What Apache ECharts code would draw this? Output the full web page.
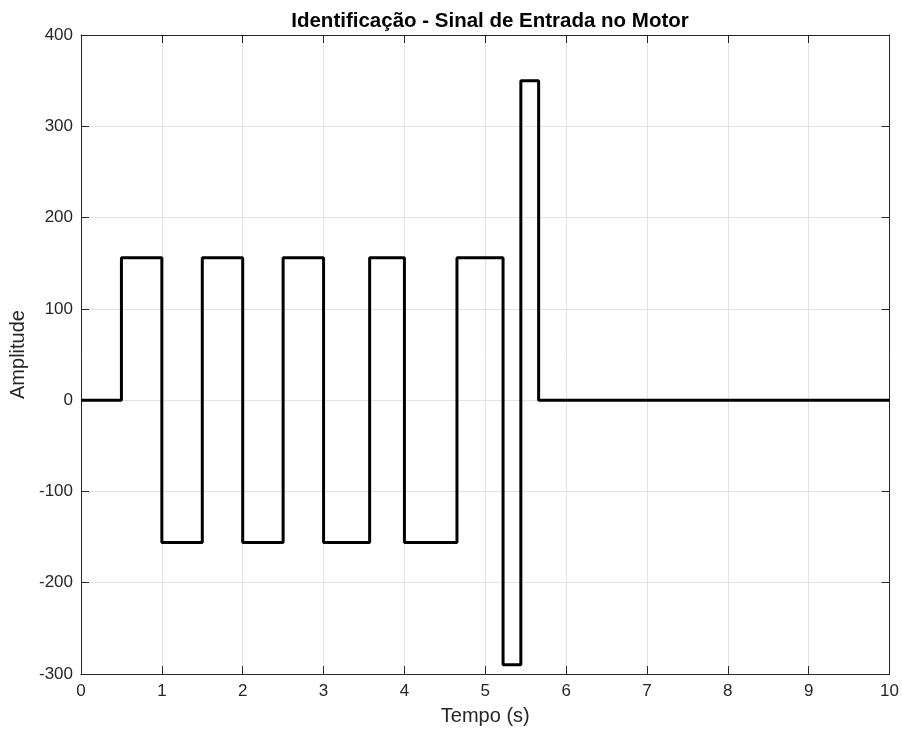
<!DOCTYPE html>
<html>
<head>
<meta charset="utf-8">
<script src="https://cdn.jsdelivr.net/npm/echarts@6/dist/echarts.min.js"></script>
<style>
  html, body { margin: 0; padding: 0; background: #fff; }
  #chart { width: 902px; height: 733px; }
</style>
</head>
<body>
<div id="chart"></div>
<script>
// Switching instants (s) and the level held from each instant onward
var switchTimes = [0, 0.5, 1.0, 1.5, 2.0, 2.5, 3.0, 3.57, 4.0, 4.65, 5.22, 5.44, 5.66, 10];
var levels      = [0, 156, -156, 156, -156, 156, -156, 156, -156, 156, -290, 350, 0, 0];

var xTicks = [0, 1, 2, 3, 4, 5, 6, 7, 8, 9, 10];
var yTicks = [-300, -200, -100, 0, 100, 200, 300, 400];

var points = switchTimes.map(function (t, i) { return [t, levels[i]]; });

var axisColor = '#262626';
var gridColor = '#e3e3e3';
var font = 'Liberation Sans, Arial, Helvetica, sans-serif';

function baseAxis(extra) {
  var o = {
    type: 'value',
    axisLine: { show: true, onZero: false, lineStyle: { color: axisColor, width: 1 } },
    axisTick: { show: true, inside: true, length: 8, lineStyle: { color: axisColor } },
    splitLine: { show: false },
    axisLabel: { show: false }
  };
  for (var k in extra) o[k] = extra[k];
  return o;
}

var chart = echarts.init(document.getElementById('chart'), null, { renderer: 'canvas' });
chart.setOption({
  animation: false,
  backgroundColor: '#ffffff',
  title: {
    text: 'Identificação - Sinal de Entrada no Motor',
    left: 485, top: 6, textAlign: 'center',
    textStyle: { fontFamily: font, fontSize: 20.5, fontWeight: 'bold', color: '#000' }
  },
  grid: { left: 81, right: 12, top: 35, bottom: 59, containLabel: false },
  xAxis: [
    baseAxis({
      position: 'bottom', min: 0, max: 10, interval: 1,
      name: 'Tempo (s)', nameLocation: 'middle', nameGap: 32,
      nameTextStyle: { fontFamily: font, fontSize: 20, color: axisColor },
      splitLine: { show: true, lineStyle: { color: gridColor, width: 1 } },
      axisLabel: { show: true, margin: 9, fontFamily: font, fontSize: 17, color: axisColor,
        formatter: function (v) { return xTicks.indexOf(v) >= 0 ? String(v) : ''; } }
    }),
    baseAxis({ position: 'top', min: 0, max: 10, interval: 1 })
  ],
  yAxis: [
    baseAxis({
      position: 'left', min: -300, max: 400, interval: 100,
      name: 'Amplitude', nameLocation: 'middle', nameGap: 51, nameRotate: 90,
      nameTextStyle: { fontFamily: font, fontSize: 20, color: axisColor },
      splitLine: { show: true, lineStyle: { color: gridColor, width: 1 } },
      axisLabel: { show: true, margin: 8, fontFamily: font, fontSize: 17, color: axisColor,
        formatter: function (v) { return yTicks.indexOf(v) >= 0 ? String(v) : ''; } }
    }),
    baseAxis({ position: 'right', min: -300, max: 400, interval: 100 })
  ],
  series: [{
    type: 'line',
    step: 'end',
    data: points,
    showSymbol: false,
    symbol: 'none',
    lineStyle: { color: '#000000', width: 3 },
    clip: true
  }]
});
</script>
</body>
</html>
